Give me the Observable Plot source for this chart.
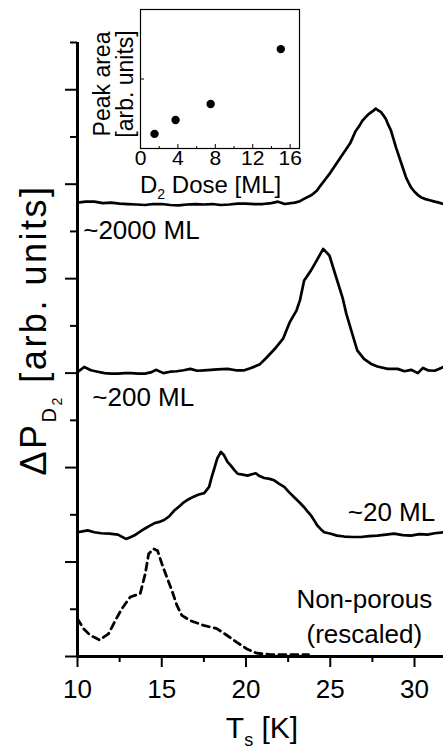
<!DOCTYPE html>
<html>
<head>
<meta charset="utf-8">
<script src="https://cdn.jsdelivr.net/npm/d3@7"></script>
<script src="https://cdn.jsdelivr.net/npm/@observablehq/plot@0.6"></script>
<style>
  body { margin: 0; background: #fff; }
  #chart { position: relative; width: 443px; height: 749px; overflow: hidden; background: #fff;
           font-family: "Liberation Sans", Arial, Helvetica, sans-serif; }
  #chart svg { position: absolute; left: 0; top: 0; }
</style>
</head>
<body>
<div id="chart"></div>
<script>
// D2 desorption traces: surface temperature T_s (K) against pressure rise (arb. units, offset per dose)
const t2000 = [10.0,10.5,11.0,11.5,12.0,12.5,13.0,13.5,14.0,14.5,15.0,15.5,16.0,16.5,17.0,17.5,18.0,18.5,19.0,19.5,20.0,20.5,21.0,21.5,21.9,22.3,22.9,23.2,23.5,23.9,24.2,24.4,24.7,25.0,25.3,25.6,25.9,26.2,26.5,26.7,26.9,27.1,27.3,27.5,27.7,27.85,28.0,28.15,28.3,28.45,28.6,28.75,28.9,29.05,29.2,29.35,29.5,29.65,29.8,30.0,30.2,30.4,30.6,30.9,31.2,31.45,31.72];
const p2000 = [9.61,9.63,9.63,9.60,9.61,9.59,9.58,9.57,9.56,9.58,9.58,9.56,9.55,9.57,9.58,9.57,9.58,9.56,9.57,9.59,9.59,9.58,9.58,9.60,9.63,9.58,9.61,9.64,9.70,9.77,9.86,9.96,10.10,10.24,10.40,10.56,10.72,10.88,11.12,11.22,11.34,11.42,11.49,11.54,11.60,11.56,11.53,11.46,11.38,11.25,11.14,10.96,10.78,10.62,10.46,10.30,10.14,10.03,9.93,9.84,9.77,9.72,9.69,9.66,9.63,9.61,9.58];

const t200 = [10.0,10.4,10.8,11.2,11.6,12.0,12.4,12.8,13.2,13.6,14.0,14.4,14.65,15.1,15.5,15.9,16.3,16.7,17.1,17.5,17.9,18.3,18.9,19.4,19.9,20.3,20.8,21.2,21.7,22.2,22.6,23.0,23.2,23.45,23.85,24.25,24.58,24.95,25.35,25.75,25.95,26.25,26.6,27.0,27.4,27.8,28.4,29.0,29.4,29.8,30.2,30.5,30.8,31.2,31.72];
const p200 = [6.02,6.13,6.06,6.03,6.00,5.99,5.99,6.00,6.00,5.99,5.99,6.02,6.07,6.00,6.03,6.04,6.06,6.09,6.05,6.06,6.07,6.08,6.09,6.06,6.06,6.11,6.18,6.32,6.51,6.73,7.08,7.33,7.54,7.96,8.17,8.42,8.63,8.49,8.03,7.57,7.26,6.90,6.48,6.30,6.20,6.14,6.09,6.09,6.04,6.07,6.00,6.11,6.06,6.05,6.13];

const t20 = [10.0,10.3,10.6,11.0,11.4,11.9,12.4,12.87,13.1,13.36,13.65,13.96,14.25,14.55,14.85,15.14,15.45,15.74,16.05,16.33,16.6,16.92,17.2,17.52,17.81,17.95,18.11,18.3,18.51,18.7,18.9,19.1,19.3,19.5,19.8,20.09,20.35,20.58,20.8,21.08,21.4,21.67,21.95,22.27,22.55,22.86,23.15,23.45,23.65,23.85,24.05,24.24,24.45,24.64,25.03,25.4,25.83,26.3,26.82,27.3,27.8,28.3,28.79,29.3,29.78,30.3,30.77,31.2,31.72];
const p20 = [2.63,2.65,2.67,2.63,2.61,2.60,2.58,2.49,2.52,2.56,2.63,2.70,2.76,2.82,2.85,2.89,2.97,3.09,3.18,3.27,3.33,3.39,3.43,3.46,3.59,3.78,3.97,4.20,4.33,4.26,4.12,4.04,3.95,3.87,3.85,3.83,3.86,3.88,3.82,3.78,3.76,3.73,3.66,3.59,3.48,3.37,3.27,3.16,3.07,2.99,2.88,2.77,2.69,2.63,2.60,2.56,2.54,2.53,2.53,2.55,2.56,2.58,2.60,2.57,2.56,2.59,2.58,2.61,2.63];

// Non-porous film, rescaled
const tNonPorous = [10.0,10.36,10.75,11.31,11.84,12.24,12.63,13.13,13.72,14.02,14.22,14.51,14.75,15.01,15.30,15.60,15.90,16.19,16.69,17.48,18.27,18.86,19.46,20.05,20.64,21.44,22.43,23.41,23.71];
const pNonPorous = [0.80,0.59,0.45,0.35,0.48,0.76,1.01,1.26,1.33,1.75,2.17,2.28,2.24,1.96,1.68,1.40,1.08,0.87,0.76,0.66,0.59,0.45,0.30,0.16,0.07,0.04,0.04,0.04,0.04];

// Curve annotations (T, signal) at which each label sits
const labelNames = ["~2000 ML", "~200 ML", "~20 ML"];
const labelT = [10.34, 10.88, 31.23];
const labelP = [9.01, 5.49, 3.04];
const noteText = "Non-porous\n(rescaled)";
const noteT = 27.02;
const noteP = 0.89;

// Axis ticks
const xMajor = [10, 15, 20, 25, 30];
const xMinor = [12.5, 17.5, 22.5, 27.5];
const yMajor = [0, 2, 4, 6, 8, 10, 12];
const yMinor = [1, 3, 5, 7, 9, 11, 13];

// Inset: integrated peak area against D2 dose
const dose = [1.5, 3.75, 7.5, 15];
const peakArea = [0.21, 0.41, 0.64, 1.43];
const doseTicks = [0, 4, 8, 12, 16];
const doseMinor = [2, 6, 10, 14];

const zipRows = (ts, ps) => ts.map((t, i) => ({t, p: ps[i]}));
const font = "'Liberation Sans', Arial, Helvetica, sans-serif";
const blank = () => "";

const main = Plot.plot({
  width: 443,
  height: 749,
  marginLeft: 77,
  marginRight: 0,
  marginTop: 42,
  marginBottom: 93,
  style: {fontFamily: font, fontSize: "26px", background: "transparent", color: "black", overflow: "visible"},
  x: {domain: [10, 31.72]},
  y: {domain: [0, 13]},
  marks: [
    Plot.axisY(yMajor, {tickSize: 12, strokeWidth: 2, tickFormat: blank, label: null}),
    Plot.axisY(yMinor, {tickSize: 7, strokeWidth: 2, tickFormat: blank, label: null}),
    Plot.axisX(xMajor, {tickSize: 11, tickPadding: 12, strokeWidth: 2, fontSize: 26, label: null}),
    Plot.axisX(xMinor, {tickSize: 6, strokeWidth: 2, tickFormat: blank, label: null}),
    Plot.ruleX([10], {strokeWidth: 3}),
    Plot.ruleY([0], {strokeWidth: 3}),
    Plot.line(zipRows(t2000, p2000), {x: "t", y: "p", strokeWidth: 2.7}),
    Plot.line(zipRows(t200, p200), {x: "t", y: "p", strokeWidth: 2.7}),
    Plot.line(zipRows(t20, p20), {x: "t", y: "p", strokeWidth: 2.7}),
    Plot.line(zipRows(tNonPorous, pNonPorous), {x: "t", y: "p", strokeWidth: 2.8, strokeDasharray: "7,5"}),
    Plot.text(labelNames.slice(0, 2), {x: (d, i) => labelT[i], y: (d, i) => labelP[i], text: d => d,
      textAnchor: "start", lineAnchor: "middle", fontSize: 26}),
    Plot.text(labelNames.slice(2), {x: (d, i) => labelT[i + 2], y: (d, i) => labelP[i + 2], text: d => d,
      textAnchor: "end", lineAnchor: "middle", fontSize: 26}),
    Plot.text([noteText], {x: noteT, y: noteP, text: d => d, textAnchor: "middle", lineAnchor: "middle",
      fontSize: 26, lineHeight: 1.33})
  ]
});

// Axis titles with subscripts
const svg = d3.select(main);
const yTitle = svg.append("text")
  .attr("transform", "translate(46,330) rotate(-90)")
  .attr("text-anchor", "middle").attr("font-size", 36).attr("letter-spacing", 2.5).attr("fill", "black");
yTitle.append("tspan").text("\u0394P");
yTitle.append("tspan").attr("font-size", 20).attr("dy", 10).text("D");
yTitle.append("tspan").attr("font-size", 14).attr("dy", 6).text("2");
yTitle.append("tspan").attr("dy", -16).text(" [arb. units]");

const xTitle = svg.append("text")
  .attr("x", 262).attr("y", 738)
  .attr("text-anchor", "middle").attr("font-size", 30).attr("fill", "black");
xTitle.append("tspan").text("T");
xTitle.append("tspan").attr("font-size", 18).attr("dy", 8).text("s");
xTitle.append("tspan").attr("dy", -8).text(" [K]");

const inset = Plot.plot({
  width: 229,
  height: 204,
  marginLeft: 60,
  marginRight: 10,
  marginTop: 9,
  marginBottom: 56,
  style: {fontFamily: font, fontSize: "21px", background: "transparent", color: "black", overflow: "visible"},
  x: {domain: [0, 17]},
  y: {domain: [0, 2]},
  marks: [
    Plot.frame({stroke: "black", strokeWidth: 1.2}),
    Plot.axisX(doseTicks, {tickSize: 0, tickPadding: 2, fontSize: 21, label: null}),
    Plot.axisX(doseTicks, {tickSize: -4, tickFormat: blank, label: null}),
    Plot.axisX(doseMinor, {tickSize: -2, tickFormat: blank, label: null}),
    Plot.axisY([1], {tickSize: -4, tickFormat: blank, label: null}),
    Plot.dot(dose.map((d, i) => ({dose: d, area: peakArea[i]})), {x: "dose", y: "area", r: 4.2, fill: "black"})
  ]
});
inset.style.left = "80px";
inset.style.top = "0px";

const isvg = d3.select(inset);
isvg.append("text").attr("transform", "translate(30,84) rotate(-90)")
  .attr("text-anchor", "middle").attr("font-size", 23).attr("fill", "black").text("Peak area");
isvg.append("text").attr("transform", "translate(53,84) rotate(-90)")
  .attr("text-anchor", "middle").attr("font-size", 23).attr("fill", "black").text("[arb. units]");
const doseTitle = isvg.append("text").attr("x", 60).attr("y", 193)
  .attr("text-anchor", "start").attr("font-size", 24).attr("fill", "black");
doseTitle.append("tspan").text("D");
doseTitle.append("tspan").attr("font-size", 14).attr("dy", 6).text("2");
doseTitle.append("tspan").attr("dy", -6).text(" Dose [ML]");

const chart = document.getElementById("chart");
chart.append(main);
chart.append(inset);
</script>
</body>
</html>
